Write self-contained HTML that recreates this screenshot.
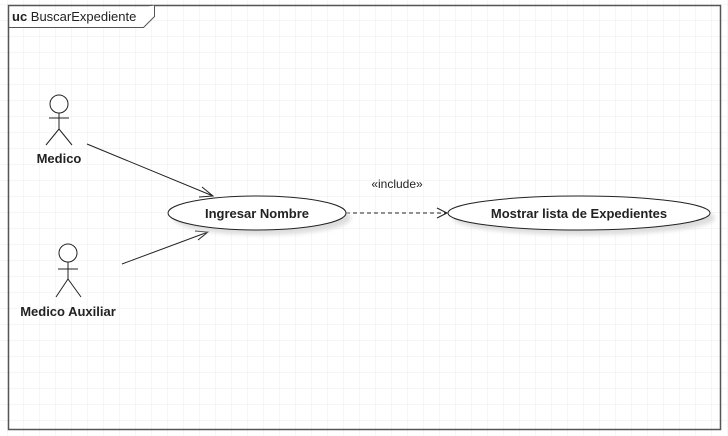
<!DOCTYPE html>
<html><head><meta charset="utf-8"><style>
html,body{margin:0;padding:0;background:#fff;}
svg{display:block;font-family:"Liberation Sans",sans-serif;}
</style></head><body>
<svg width="728" height="436" viewBox="0 0 728 436" xmlns="http://www.w3.org/2000/svg">
<defs>
<pattern id="g" x="8" y="5" width="16" height="16" patternUnits="userSpaceOnUse">
<path d="M16 0V16M0 16H16" stroke="#ececec" stroke-width="1" fill="none"/>
</pattern>
<filter id="s" x="-20%" y="-50%" width="150%" height="200%"><feGaussianBlur stdDeviation="2"/></filter>
</defs>
<rect width="728" height="436" fill="#fff"/>
<rect x="0" y="0" width="728" height="436" fill="url(#g)"/>
<rect x="8.5" y="5.5" width="712" height="424" fill="none" stroke="#555" stroke-width="1.5"/>
<path d="M8.5 27.5H143.5L154.5 16.5V5.5" fill="#fff" stroke="#555" stroke-width="1"/>
<text x="12" y="21" font-size="13" fill="#222"><tspan font-weight="bold">uc</tspan> BuscarExpediente</text>

<g stroke="#222" stroke-width="1" fill="none">
<circle cx="59" cy="104" r="9" fill="#fff"/>
<path d="M59 113V129M49 118H69M59 129L46 145M59 129L72 145"/>
<circle cx="68" cy="253" r="9" fill="#fff"/>
<path d="M68 262V279M58 269H78M68 279L56 297M68 279L81 297"/>
<path d="M87 144L213 196M202 187L213 196L199 197"/>
<path d="M122 264L208 232M195 231L208 232L198 240"/>
<path d="M346 213H447" stroke-dasharray="4,3"/>
<path d="M437 208L447 213L437 218"/>
</g>
<text x="59" y="163" font-size="13" font-weight="bold" text-anchor="middle" fill="#222">Medico</text>
<text x="68" y="316" font-size="13" font-weight="bold" text-anchor="middle" fill="#222">Medico Auxiliar</text>
<text x="397" y="188" font-size="12" text-anchor="middle" fill="#222">«include»</text>

<ellipse cx="262" cy="218" rx="89" ry="17" fill="#ddd" filter="url(#s)"/>
<ellipse cx="257" cy="213" rx="89" ry="17" fill="#fff" stroke="#222" stroke-width="1"/>
<text x="257" y="218" font-size="13" font-weight="bold" text-anchor="middle" fill="#222">Ingresar Nombre</text>
<ellipse cx="584" cy="218" rx="131" ry="17" fill="#ddd" filter="url(#s)"/>
<ellipse cx="579" cy="213" rx="131" ry="17" fill="#fff" stroke="#222" stroke-width="1"/>
<text x="579" y="218" font-size="13" font-weight="bold" text-anchor="middle" fill="#222">Mostrar lista de Expedientes</text>
</svg>
</body></html>
